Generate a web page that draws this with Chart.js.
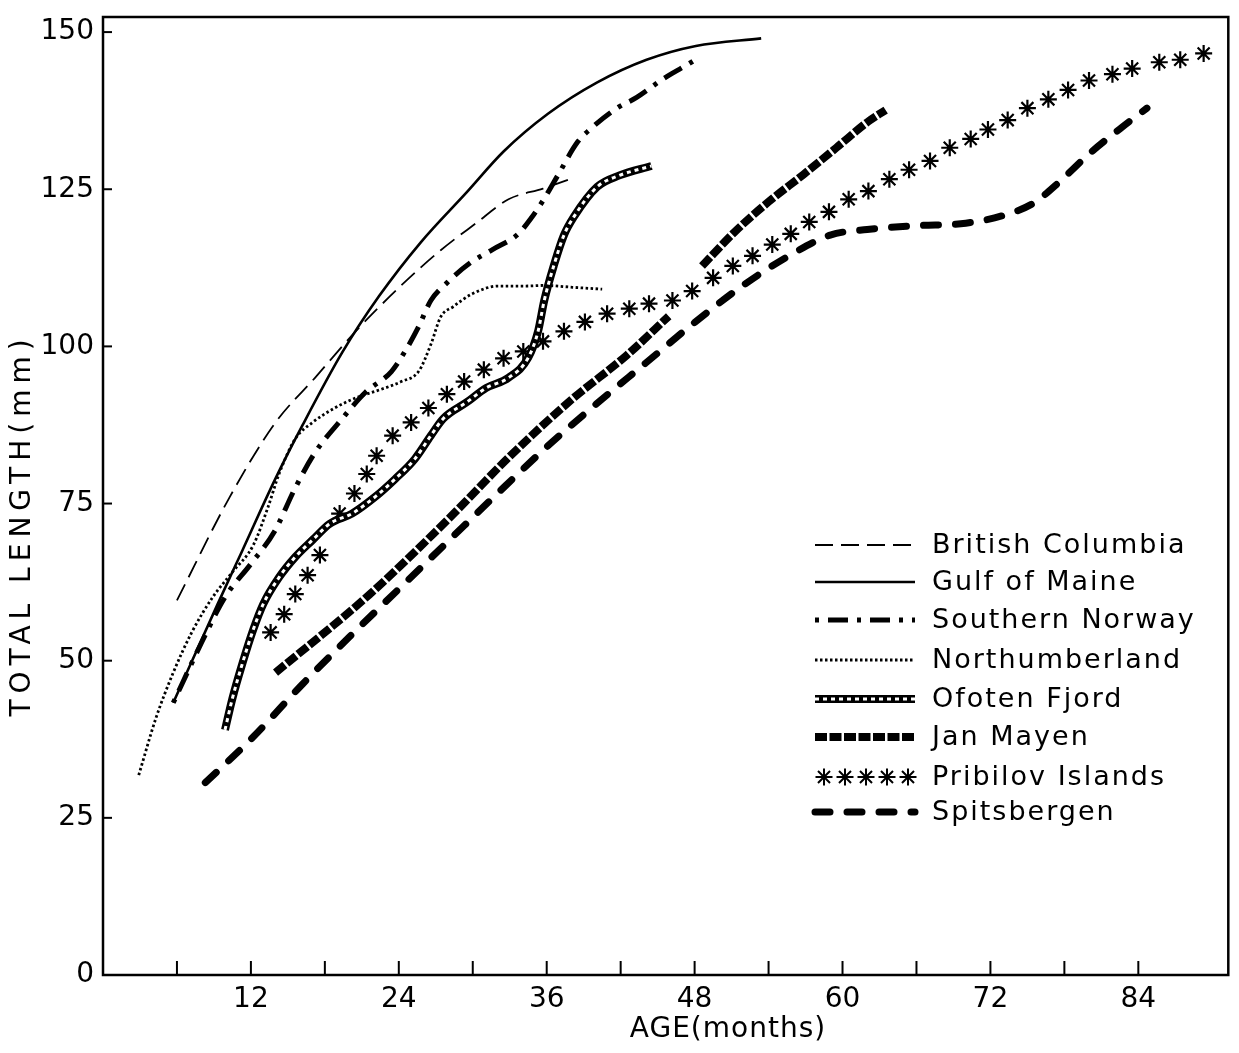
<!DOCTYPE html>
<html><head><meta charset="utf-8">
<script src="https://cdn.jsdelivr.net/npm/chart.js@4.4.1/dist/chart.umd.min.js"></script>
<style>html,body{margin:0;padding:0;background:#fff;overflow:hidden}</style>
</head><body>
<canvas id="c" width="1239" height="1053"></canvas>
<script>
// ---- data (age in months, total length in mm) ----
const seriesNames = ['British Columbia','Gulf of Maine','Southern Norway','Northumberland','Ofoten Fjord','Jan Mayen','Pribilov Islands','Spitsbergen'];
const xTickLabels = [12,24,36,48,60,72,84];
const yTickLabels = [0,25,50,75,100,125,150];

const bcAge = [6.0,10.3,14.0,17.2,20.5,24.2,27.4,30.2,32.9,35.7,38.3];
const bcLen = [59.6,76.1,87.9,95.0,102.4,109.7,115.3,119.5,123.4,125.1,126.9];

const gomAge = [5.7,9.3,11.3,14.0,16.2,19.4,22.4,25.8,29.5,32.5,36.1,40.1,44.1,48.1,53.4];
const gomLen = [43.3,59.0,67.5,79.0,87.5,99.0,108.0,116.6,124.5,131.0,137.0,142.0,145.6,147.8,149.0];

const snAge = [5.7,8.0,9.9,12.0,13.9,15.6,17.2,19.4,21.3,23.4,24.5,25.6,26.6,27.9,29.8,31.6,33.7,34.7,35.8,36.9,38.5,39.5,41.7,43.3,45.4,47.3,48.3];
const snLen = [43.3,52.9,60.1,65.4,70.5,77.5,83.1,88.5,92.7,96.0,99.2,103.1,107.3,110.1,113.3,115.4,117.9,120.3,123.5,127.2,132.5,134.5,137.9,139.6,142.5,144.7,145.9];

const nbAge = [2.9,4.3,5.7,7.2,8.9,10.5,12.2,13.4,14.3,15.6,17.0,18.8,20.5,22.9,24.2,25.6,26.6,27.4,28.4,30.0,32.1,34.3,35.8,38.1,40.5];
const nbLen = [31.8,40.9,48.1,54.5,60.1,64.1,68.4,74.5,79.8,85.3,87.9,90.2,91.8,93.4,94.4,96.0,100.3,104.7,106.3,108.4,109.6,109.6,109.7,109.4,109.1];

const ofAge = [9.9,10.5,11.3,12.2,13.0,14.3,15.6,17.0,18.4,20.2,22.1,23.7,25.3,26.6,27.6,29.5,31.1,32.9,34.5,35.3,35.8,36.6,37.4,38.2,40.1,41.9,44.5];
const ofLen = [39.0,44.0,49.5,55.0,59.0,63.3,66.5,69.2,71.8,73.4,76.1,78.9,82.1,85.8,88.5,91.1,93.4,95.0,98.2,102.4,107.3,113.0,117.7,120.6,125.4,127.2,128.7];

const jmAge = [14.0,21.6,28.0,33.0,38.0,42.5,45.9,47.2,48.6,51.3,54.0,56.8,59.5,62.1,63.5];
const jmLen = [48.1,60.5,72.5,82.5,91.5,98.6,104.8,null,112.8,118.3,123.0,127.3,131.6,135.8,137.6];

const pbAge = [13.6,14.7,15.6,16.6,17.6,19.2,20.4,21.4,22.2,23.5,25.0,26.4,27.9,29.3,30.9,32.5,34.1,35.7,37.4,39.1,40.9,42.7,44.3,46.2,47.8,49.5,51.1,52.7,54.3,55.8,57.3,58.9,60.5,62.1,63.8,65.4,67.1,68.7,70.4,71.8,73.4,75.0,76.7,78.3,80.0,81.9,83.5,85.7,87.4,89.3];
const pbLen = [54.5,57.4,60.6,63.6,66.8,73.4,76.6,79.7,82.6,85.8,87.9,90.2,92.4,94.4,96.3,98.1,99.2,100.8,102.4,103.9,105.2,106.0,106.8,107.3,108.8,110.9,112.8,114.4,116.2,117.9,119.8,121.4,123.4,124.7,126.6,128.1,129.5,131.6,133.0,134.5,136.0,137.9,139.3,140.8,142.3,143.3,144.2,145.2,145.6,146.6];

const spAge = [8.3,12.0,16.2,20.0,24.0,28.0,32.0,36.0,40.0,44.0,48.0,52.0,56.0,59.0,62.0,66.0,70.0,73.0,75.5,77.5,80.0,82.5,84.7];
const spLen = [30.6,37.5,46.3,53.8,61.4,69.0,76.6,84.0,90.8,97.3,103.8,109.8,114.8,117.7,118.6,119.2,119.6,120.8,122.8,126.0,130.6,134.6,137.9];

// ---- build ----
const FONT = "'DejaVu Sans', 'Liberation Sans', sans-serif";
function mk(label, ages, lens, style) {
  return Object.assign({
    label, data: ages.map((a, i) => ({x: a, y: lens[i]})),
    borderColor: '#000', backgroundColor: '#000', pointRadius: 0,
    fill: false, cubicInterpolationMode: 'monotone', spanGaps: false, order: 1
  }, style);
}
const datasets = [
  mk(seriesNames[0], bcAge, bcLen, {borderWidth: 1.8, borderDash: [18, 8]}),
  mk(seriesNames[1], gomAge, gomLen, {borderWidth: 2.6}),
  mk(seriesNames[2], snAge, snLen, {borderWidth: 5, borderDash: [4, 9, 20, 9]}),
  mk(seriesNames[3], nbAge, nbLen, {borderWidth: 2.8, borderDash: [2.5, 2.5]}),
  mk(seriesNames[4], ofAge, ofLen, {borderWidth: 8}),
  mk(seriesNames[5], jmAge, jmLen, {borderWidth: 8, borderDash: [12, 2.5]}),
  mk(seriesNames[6], pbAge, pbLen, {showLine: false, pointStyle: 'star', pointRadius: 8.5, pointBorderWidth: 2.2, pointBorderColor: '#000'}),
  mk(seriesNames[7], spAge, spLen, {borderWidth: 7, borderDash: [15, 17], borderCapStyle: 'round'}),
  mk('_ofoten_rope', ofAge, ofLen, {borderColor: '#fff', borderWidth: 3, borderDash: [4, 4], order: 0})
];

function drawSample(ctx, ds, x0, x1, y) {
  if (ds.pointStyle === 'star') {
    ctx.strokeStyle = '#000';
    for (let i = 0; i < 5; i++) {
      Chart.helpers.drawPoint(ctx, {pointStyle: 'star', radius: ds.pointRadius, borderWidth: ds.pointBorderWidth, rotation: 0}, x0 + 9 + i * 21, y);
    }
    return;
  }
  ctx.beginPath();
  ctx.setLineDash(ds.borderDash || []);
  ctx.lineWidth = ds.borderWidth;
  ctx.lineCap = ds.borderCapStyle || 'butt';
  ctx.strokeStyle = ds.borderColor;
  ctx.moveTo(x0, y); ctx.lineTo(x1, y); ctx.stroke();
}

const decor = {
  id: 'decor',
  afterDraw(chart) {
    const {ctx, chartArea: a, scales: {x, y}} = chart;
    ctx.save();
    ctx.strokeStyle = '#000';
    ctx.setLineDash([]);
    ctx.lineWidth = 2.5;
    ctx.strokeRect(a.left, a.top, a.right - a.left, a.bottom - a.top);
    ctx.lineWidth = 2;
    x.ticks.forEach(t => {
      if (t.value > 0 && t.value <= 84 && t.value % 6 === 0) {
        const px = x.getPixelForValue(t.value);
        ctx.beginPath(); ctx.moveTo(px, a.bottom); ctx.lineTo(px, a.bottom - 14); ctx.stroke();
      }
    });
    y.ticks.forEach(t => {
      if (t.value > 0 && t.value % 25 === 0) {
        const py = y.getPixelForValue(t.value);
        ctx.beginPath(); ctx.moveTo(a.left, py); ctx.lineTo(a.left + 9, py); ctx.stroke();
      }
    });
    // axis titles
    ctx.fillStyle = '#000';
    ctx.font = '28px ' + FONT;
    ctx.textAlign = 'center'; ctx.textBaseline = 'middle';
    ctx.letterSpacing = '1px';
    ctx.fillText('AGE(months)', 728, 1030);
    ctx.save();
    ctx.translate(23, 525); ctx.rotate(-Math.PI / 2);
    ctx.letterSpacing = '6px';
    ctx.fillText('TOTAL LENGTH(mm)', 0, 0);
    ctx.restore();
    // legend
    const rows = [545, 582, 620, 660, 699, 737, 777, 812];
    ctx.font = '27px ' + FONT;
    ctx.textAlign = 'left';
    ctx.letterSpacing = '2px';
    for (let i = 0; i < 8; i++) {
      const ds = chart.data.datasets[i];
      ctx.save();
      drawSample(ctx, ds, 815, 915, rows[i]);
      if (i === 4) drawSample(ctx, chart.data.datasets[8], 815, 915, rows[i]);
      ctx.restore();
      ctx.fillStyle = '#000';
      ctx.fillText(ds.label, 932, rows[i] + 1);
    }
    ctx.restore();
  }
};

new Chart(document.getElementById('c'), {
  type: 'line',
  data: {datasets},
  options: {
    responsive: false, animation: false, events: [],
    layout: {padding: {top: 17, right: 6, left: 0, bottom: 0}},
    plugins: {legend: {display: false}, tooltip: {enabled: false}},
    scales: {
      x: {
        type: 'linear', min: 0, max: 91.3,
        grid: {display: false, drawTicks: false}, border: {display: false},
        ticks: {stepSize: 6, autoSkip: false, includeBounds: false, maxRotation: 0, padding: 8, color: '#000',
          font: {family: FONT, size: 28},
          callback: v => xTickLabels.includes(v) ? String(v) : ''},
        afterFit(s) { s.height = 78; s.paddingLeft = 0; s.paddingRight = 0; }
      },
      y: {
        type: 'linear', min: 0, max: 152.4,
        grid: {display: false, drawTicks: false}, border: {display: false},
        ticks: {stepSize: 25, autoSkip: false, includeBounds: false, padding: 9, color: '#000',
          font: {family: FONT, size: 28},
          callback: v => yTickLabels.includes(v) ? String(v) : ''},
        afterFit(s) { s.width = 103; s.paddingTop = 0; s.paddingBottom = 0; }
      }
    }
  },
  plugins: [decor]
});
</script>
</body></html>
